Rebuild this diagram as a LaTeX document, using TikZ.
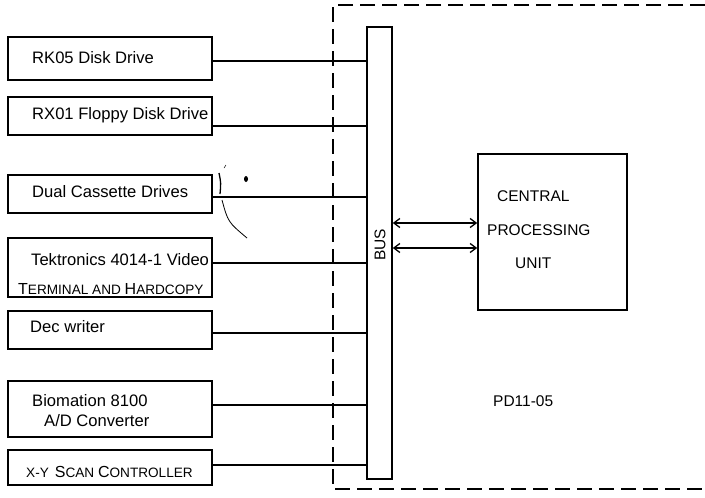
\documentclass[tikz,border=0pt]{standalone}
\usepackage{fontspec}
\setmainfont{Liberation Sans}
\usetikzlibrary{arrows.meta,calc}
\newcommand{\bigsc}[1]{{\fontsize{16}{16}\selectfont #1}}
\newcommand{\smsc}[1]{{\fontsize{13.6}{14}\selectfont #1}}
\begin{document}
\begin{tikzpicture}[x=1pt,y=-1pt,
  devbox/.style={draw,line width=1.6pt,minimum width=204pt,inner sep=0pt},
  devtext/.style={anchor=west,inner sep=0pt,font=\fontsize{16.6}{17}\selectfont},
  cputext/.style={anchor=west,inner sep=0pt,font=\fontsize{15.5}{16}\selectfont},
  conn/.style={line width=1.2pt},
  biarrow/.style={line width=1.3pt,{Straight Barb[length=6pt,width=9pt]}-{Straight Barb[length=6pt,width=9pt]}},
  artifact/.style={line width=0.8pt}]
\useasboundingbox (0,0) rectangle (705,498);
% dashed enclosure
\draw[line width=1.7pt,dash pattern=on 15pt off 7pt] (705,5) -- (333,5) -- (333,489) -- (705,489);
% device boxes
\node[devbox,minimum height=43pt] (rk) at (110,58.5) {};
\node[devbox,minimum height=38pt] (rx) at (110,116) {};
\node[devbox,minimum height=38pt] (dc) at (110,194) {};
\node[devbox,minimum height=59pt] (tk) at (110,267.5) {};
\node[devbox,minimum height=38pt] (dw) at (110,330) {};
\node[devbox,minimum height=56pt] (bm) at (110,409) {};
\node[devbox,minimum height=35pt] (xy) at (110,467.5) {};
% device texts
\node[devtext] (trk) at (32,58) {RK05 Disk Drive};
\node[devtext] (trx) at (32,115) {RX01 Floppy Disk Drive};
\node[devtext] (tdc) at (32,192) {Dual Cassette Drives};
\node[devtext] (ttk1) at (31,260) {Tektronics 4014-1 Video};
\node[anchor=west,inner sep=0pt] (ttk2) at (18,289) {\bigsc{T}\smsc{ERMINAL AND }\bigsc{H}\smsc{ARDCOPY}};
\node[devtext] (tdw) at (30,327) {Dec writer};
\node[devtext] (tbm1) at (32,401) {Biomation 8100};
\node[devtext] (tbm2) at (44,421) {A/D Converter};
\node[anchor=west,inner sep=0pt] (txy) at (26,472) {\smsc{X-Y\, }\bigsc{S}\smsc{CAN }\bigsc{C}\smsc{ONTROLLER}};
% bus
\node[draw,line width=1.6pt,minimum width=25pt,minimum height=452pt,inner sep=0pt] (bus) at (379.5,253) {};
\node[rotate=90,inner sep=0pt,font=\fontsize{15.5}{16}\selectfont] (tbus) at (380,245) {BUS};
% CPU
\node[draw,line width=1.6pt,minimum width=149pt,minimum height=156pt,inner sep=0pt] (cpu) at (552.5,232) {};
\node[cputext] (tc1) at (497,196) {CENTRAL};
\node[cputext] (tc2) at (487,230) {PROCESSING};
\node[cputext] (tc3) at (515,263) {UNIT};
\node[cputext] (tpd) at (493,401) {PD11-05};
% connectors
\coordinate (c1) at ([yshift=-2.5pt]rk.east);
\coordinate (c2) at ([yshift=-10pt]rx.east);
\coordinate (c3) at ([yshift=-3pt]dc.east);
\coordinate (c4) at ([yshift=4.5pt]tk.east);
\coordinate (c5) at ([yshift=-3pt]dw.east);
\coordinate (c6) at ([yshift=4pt]bm.east);
\coordinate (c7) at ([yshift=2.5pt]xy.east);
\foreach \c in {c1,c2,c3,c4,c5,c6,c7}
  \draw[conn] (\c) -- (\c -| bus.west);
% bus to cpu arrows
\coordinate (a1) at ([yshift=9pt]cpu.west);
\coordinate (a2) at ([yshift=-16pt]cpu.west);
\draw[biarrow] (a1 -| bus.east) -- (a1);
\draw[biarrow] (a2 -| bus.east) -- (a2);
% scan marks
\draw[artifact,line width=1.3pt] (219,173) .. controls (221,183) .. (220,194);
\draw[artifact] (222,200) .. controls (228,222) .. (247,238);
\draw[artifact,line width=0.5pt] (224,168) -- (226,165);
\fill (246,179) ellipse (2pt and 3pt);
\end{tikzpicture}
\end{document}
